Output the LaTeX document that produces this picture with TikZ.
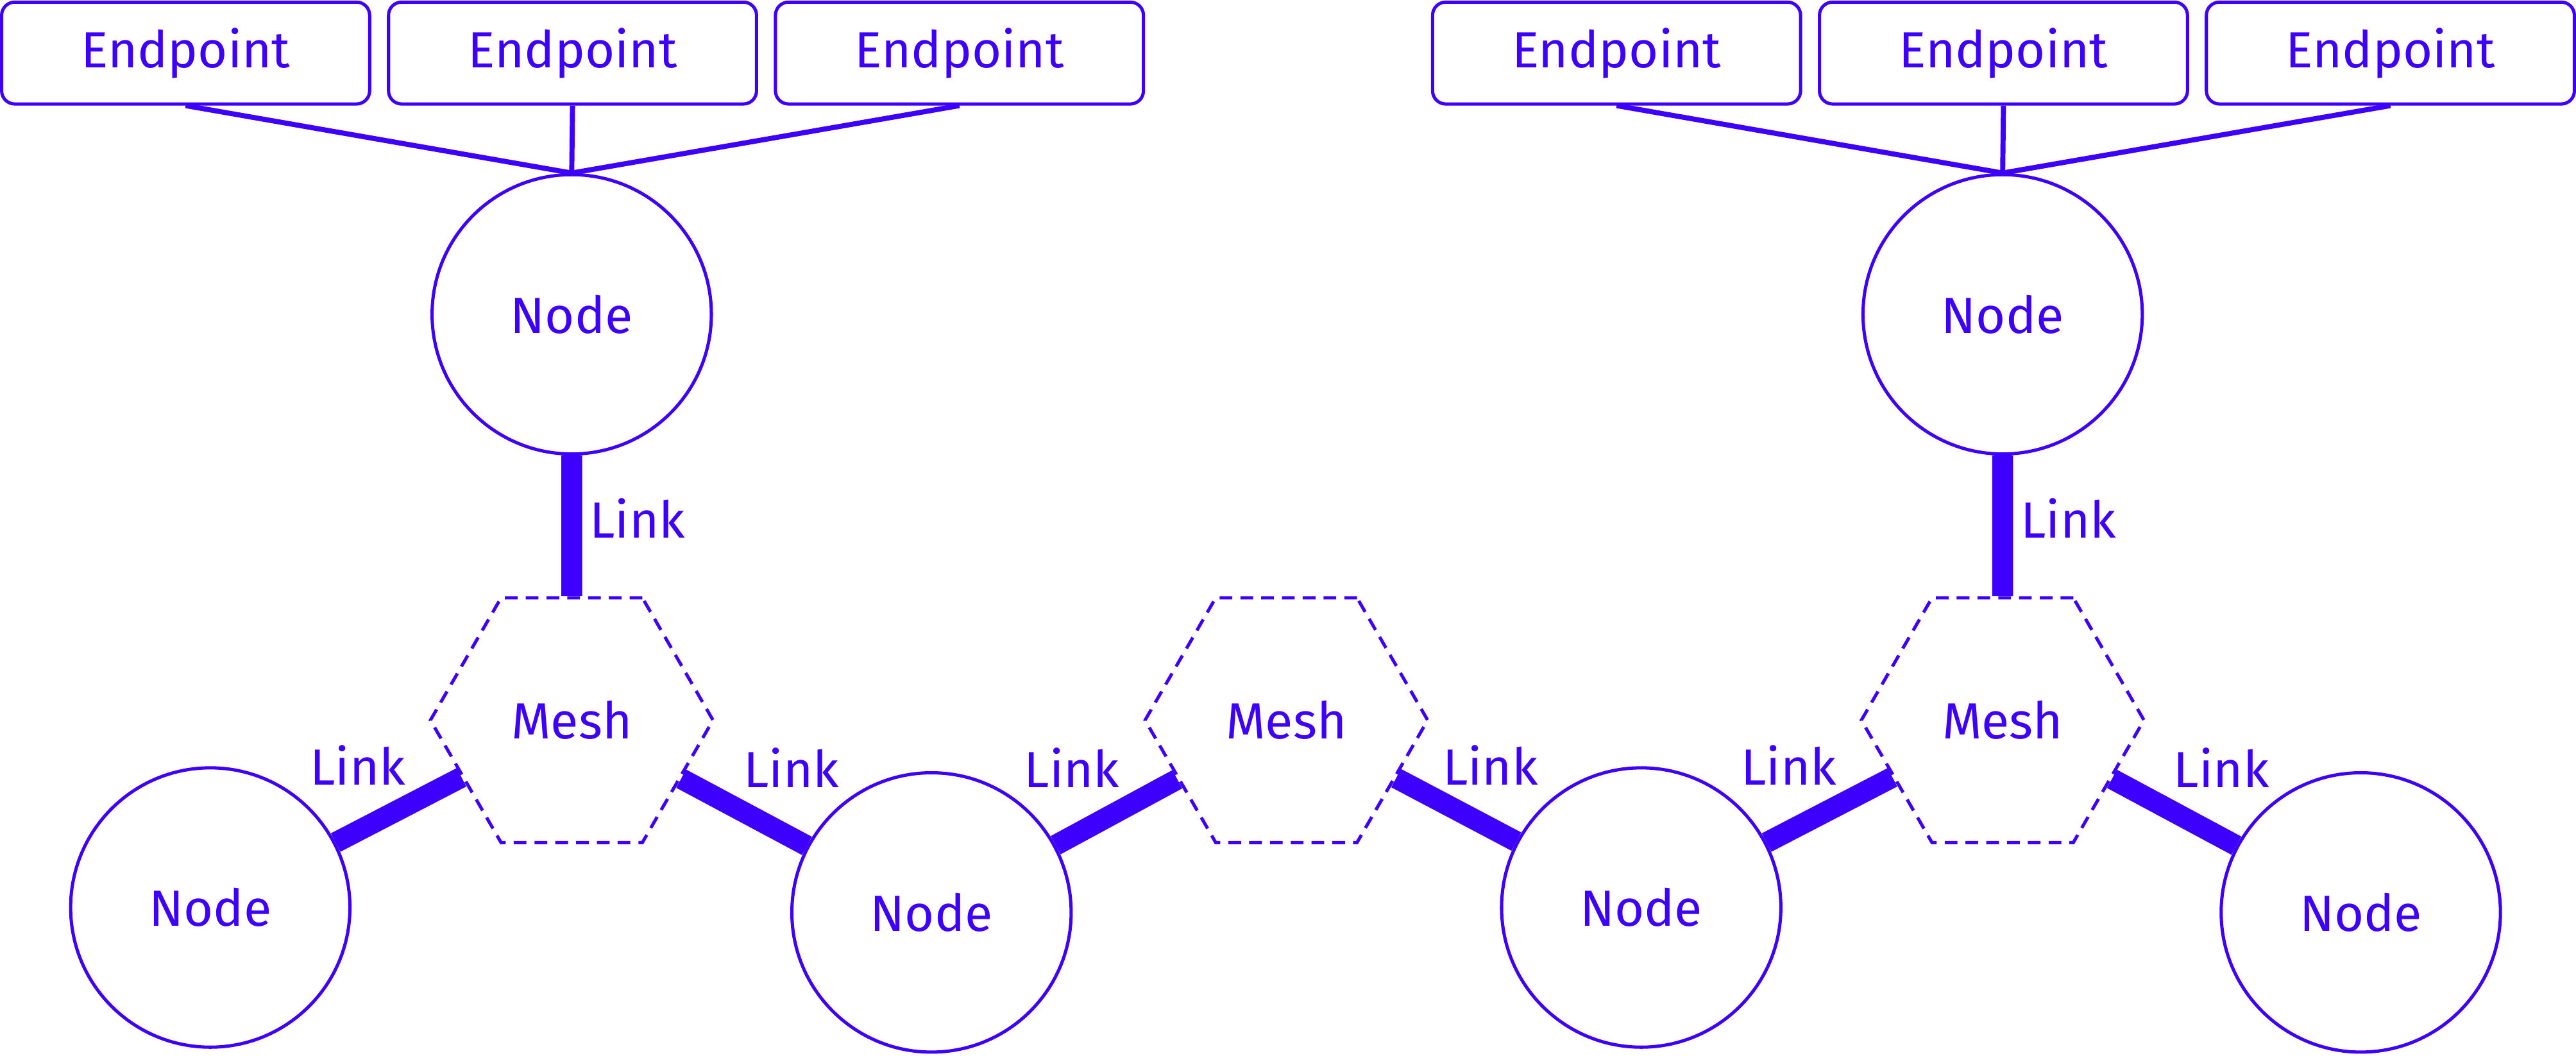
\documentclass[tikz,border=0pt]{standalone}
\usepackage{fontspec}
\setmainfont{Fira Sans}
\usetikzlibrary{shapes.geometric}
\definecolor{meshblue}{RGB}{61,0,255}

\begin{document}
\begin{tikzpicture}[x=0.25mm, y=0.25mm, meshblue, line width=1.4pt,
  font=\fontsize{22}{26}\selectfont,
  main/.style = {draw, circle, minimum size=4.25cm, inner sep=0pt},
  mesh/.style = {draw, regular polygon, regular polygon sides=6, minimum size=4.3cm, inner sep=0pt, dash pattern=on 5.5pt off 3.5pt},
  endpt/.style = {draw, rounded corners=0.2cm, minimum width=5.6cm, minimum height=1.55cm},
  link/.style = {line width=9pt},
  wire/.style = {line width=2.2pt}]
\useasboundingbox (0,0) rectangle (1568,642.3);
% meshes
\node[mesh] (m1) at (348,204) {Mesh};
\node[mesh] (m2) at (783,204) {Mesh};
\node[mesh] (m3) at (1219,204) {Mesh};
% nodes
\node[main] (t1) at (348,451) {Node};
\node[main] (t2) at (1219,451) {Node};
\node[main] (b1) at (128,90) {Node};
\node[main] (b2) at (567,87) {Node};
\node[main] (b3) at (999,90) {Node};
\node[main] (b4) at (1437,87) {Node};
% endpoints
\node[endpt] (e1) at (113,610) {Endpoint};
\node[endpt] (e2) at (348.5,610) {Endpoint};
\node[endpt] (e3) at (584,610) {Endpoint};
\node[endpt] (e4) at (984,610) {Endpoint};
\node[endpt] (e5) at (1219.5,610) {Endpoint};
\node[endpt] (e6) at (1455,610) {Endpoint};
\draw[wire] (e1.south) -- (t1.north);
\draw[wire] (e2.south) -- (t1.north);
\draw[wire] (e3.south) -- (t1.north);
\draw[wire] (e4.south) -- (t2.north);
\draw[wire] (e5.south) -- (t2.north);
\draw[wire] (e6.south) -- (t2.north);
% links
\draw[link] (t1) -- node[midway, right, yshift=0.12cm] {Link} (m1);
\draw[link] (t2) -- node[midway, right, yshift=0.12cm] {Link} (m3);
\draw[link] (b1) -- node[midway, xshift=-0.62cm, yshift=0.68cm] {Link} (m1);
\draw[link] (m1) -- node[midway, xshift=0.72cm, yshift=0.68cm] {Link} (b2);
\draw[link] (b2) -- node[midway, xshift=-0.68cm, yshift=0.68cm] {Link} (m2);
\draw[link] (m2) -- node[midway, xshift=0.52cm, yshift=0.68cm] {Link} (b3);
\draw[link] (b3) -- node[midway, xshift=-0.62cm, yshift=0.68cm] {Link} (m3);
\draw[link] (m3) -- node[midway, xshift=0.72cm, yshift=0.68cm] {Link} (b4);
\end{tikzpicture}
\end{document}
